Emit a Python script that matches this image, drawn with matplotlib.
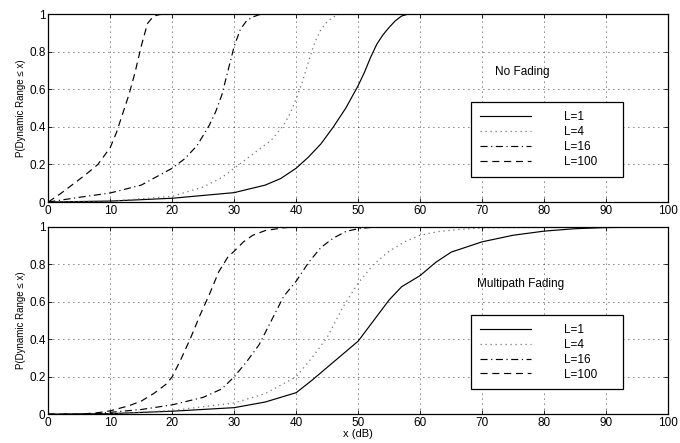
import matplotlib
matplotlib.use("Agg")
import matplotlib.pyplot as plt
from matplotlib.ticker import FormatStrFormatter, MultipleLocator

plt.rcParams['font.family'] = ['Liberation Sans', 'DejaVu Sans']
plt.rcParams['font.size'] = 8

# --- No fading: P(dynamic range <= x) for L branches
nf_x_1 = [0, 10, 20, 30, 35, 37.5, 40, 42, 44, 46, 48, 50, 51, 52, 53, 54, 55, 56, 57, 58, 100]
nf_y_1 = [0, 0.005, 0.02, 0.05, 0.09, 0.125, 0.18, 0.24, 0.31, 0.4, 0.5, 0.62, 0.69, 0.77, 0.84, 0.89, 0.93, 0.965, 0.99, 1.0, 1.0]
nf_x_4 = [0, 10, 20, 25, 28, 30, 32, 34, 36, 38, 39, 40, 41, 42, 43, 44, 45, 46, 47, 100]
nf_y_4 = [0, 0.005, 0.03, 0.08, 0.13, 0.18, 0.23, 0.28, 0.33, 0.41, 0.47, 0.55, 0.64, 0.75, 0.85, 0.92, 0.96, 0.985, 1.0, 1.0]
nf_x_16 = [0, 5, 10, 15, 20, 22, 24, 26, 27, 28, 29, 30, 31, 32, 33, 34, 35, 100]
nf_y_16 = [0, 0.025, 0.048, 0.09, 0.18, 0.23, 0.3, 0.41, 0.48, 0.57, 0.7, 0.83, 0.92, 0.965, 0.985, 0.997, 1.0, 1.0]
nf_x_100 = [0, 2, 4, 6, 8, 10, 11, 12, 13, 14, 15, 16, 17, 18, 19, 100]
nf_y_100 = [0, 0.045, 0.095, 0.145, 0.2, 0.29, 0.37, 0.47, 0.57, 0.69, 0.83, 0.95, 0.99, 0.998, 1.0, 1.0]

# --- Multipath fading
mf_x_1 = [0, 10, 20, 30, 35, 40, 42.5, 45, 47.5, 50, 52.5, 55, 57, 60, 62.5, 65, 70, 75, 80, 85, 90, 100]
mf_y_1 = [0, 0.003, 0.016, 0.035, 0.065, 0.115, 0.18, 0.25, 0.32, 0.39, 0.5, 0.61, 0.68, 0.74, 0.81, 0.865, 0.92, 0.955, 0.977, 0.99, 0.996, 1.0]
mf_x_4 = [0, 10, 20, 30, 35, 40, 42.5, 45, 47.5, 50, 52.5, 55, 57.5, 60, 63, 66, 70, 100]
mf_y_4 = [0, 0.002, 0.02, 0.06, 0.11, 0.2, 0.3, 0.41, 0.57, 0.7, 0.8, 0.87, 0.92, 0.955, 0.975, 0.985, 0.995, 1.0]
mf_x_16 = [0, 7, 10, 15, 20, 25, 28, 30, 32, 34, 36, 38, 40, 42, 44, 46, 48, 50, 53, 100]
mf_y_16 = [0, 0, 0.01, 0.025, 0.05, 0.09, 0.135, 0.2, 0.28, 0.37, 0.5, 0.63, 0.71, 0.81, 0.89, 0.94, 0.975, 0.99, 1.0, 1.0]
mf_x_100 = [0, 5, 8, 10, 13, 15, 17, 19, 20, 21.5, 23, 24.5, 26, 27.5, 29, 30, 31.5, 33, 35, 38, 40, 100]
mf_y_100 = [0, 0, 0.008, 0.018, 0.045, 0.07, 0.11, 0.16, 0.2, 0.3, 0.41, 0.53, 0.64, 0.76, 0.84, 0.87, 0.92, 0.955, 0.98, 0.995, 1.0, 1.0]

labels = ['L=1', 'L=4', 'L=16', 'L=100']
styles = [
    dict(color='black', linestyle='-', linewidth=0.85),
    dict(color='0.45', linestyle=(0, (1, 3)), linewidth=0.9),
    dict(color='black', linestyle=(0, (6, 3, 1, 3)), linewidth=0.85),
    dict(color='black', linestyle=(0, (6, 4)), linewidth=0.85),
]

fig = plt.figure(figsize=(6.8, 4.43), dpi=100)
ax1 = fig.add_axes([0.0710, 0.544, 0.9115, 0.424])
ax2 = fig.add_axes([0.0710, 0.065, 0.9115, 0.423])


def setup(ax):
    ax.set_xlim(0, 100)
    ax.set_ylim(0, 1)
    ax.xaxis.set_major_locator(MultipleLocator(10))
    ax.yaxis.set_major_locator(MultipleLocator(0.2))
    ax.yaxis.set_major_formatter(FormatStrFormatter('%g'))
    ax.tick_params(direction='in', length=3, width=0.6, top=True, right=True,
                   labelsize=8.5, pad=2)
    ax.grid(True, color='black', linestyle=(0, (1, 5)), linewidth=0.6)
    for s in ax.spines.values():
        s.set_linewidth(0.9)
    ax.set_ylabel('P(Dynamic Range \u2264 x)', fontsize=7, labelpad=2)


def draw(ax, xs, ys, title, tx, ty):
    setup(ax)
    for x, y, st, lab in zip(xs, ys, styles, labels):
        ax.plot(x, y, label=lab, **st)
    ax.text(tx, ty, title, fontsize=8.5, va='center', ha='left')
    leg = ax.legend(loc='upper left', bbox_to_anchor=(68.2, 0.13, 24.5, 0.40),
                    bbox_transform=ax.transData, mode='expand', borderaxespad=0,
                    fancybox=False, edgecolor='black', framealpha=1,
                    fontsize=8.5, handlelength=4.3, handletextpad=2.8,
                    borderpad=0.75, labelspacing=0.25)
    leg.get_frame().set_linewidth(0.9)


draw(ax1, [nf_x_1, nf_x_4, nf_x_16, nf_x_100], [nf_y_1, nf_y_4, nf_y_16, nf_y_100],
     'No Fading', 72, 0.69)
draw(ax2, [mf_x_1, mf_x_4, mf_x_16, mf_x_100], [mf_y_1, mf_y_4, mf_y_16, mf_y_100],
     'Multipath Fading', 69.1, 0.695)
ax2.set_xlabel('x (dB)', fontsize=8, labelpad=0)

fig.savefig('out.png', dpi=100)
